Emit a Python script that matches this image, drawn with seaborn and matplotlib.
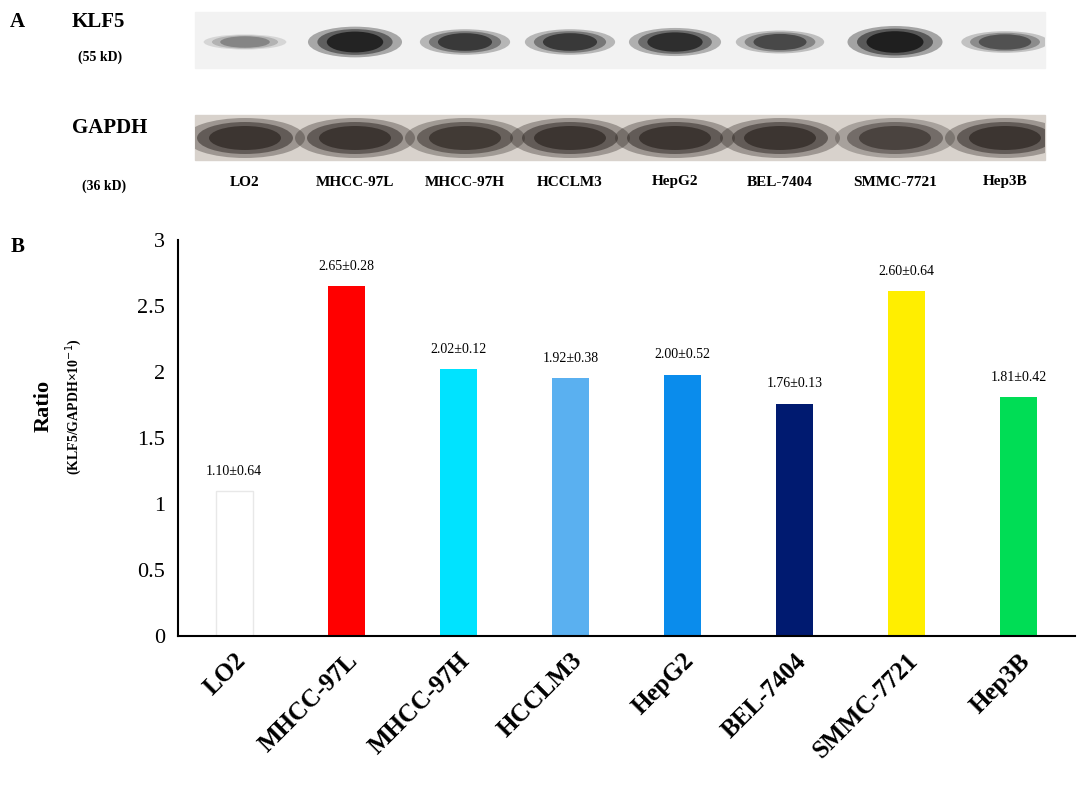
import matplotlib
matplotlib.use("Agg")
import matplotlib.pyplot as plt
import seaborn as sns
import pandas as pd
import numpy as np
from matplotlib.patches import Ellipse, Rectangle

sns.set_theme(style="white")
plt.rcParams['font.family'] = ['Liberation Serif', 'DejaVu Serif']
plt.rcParams['text.color'] = 'black'
plt.rcParams['xtick.color'] = 'black'
plt.rcParams['ytick.color'] = 'black'

cells = ["LO2", "MHCC-97L", "MHCC-97H", "HCCLM3", "HepG2", "BEL-7404", "SMMC-7721", "Hep3B"]
ratios = [1.10, 2.65, 2.02, 1.95, 1.98, 1.76, 2.61, 1.81]
labels = ["1.10±0.64", "2.65±0.28", "2.02±0.12", "1.92±0.38", "2.00±0.52", "1.76±0.13", "2.60±0.64", "1.81±0.42"]
colors = ["#ffffff", "#ff0000", "#00e3ff", "#5ab0f0", "#0a8cec", "#001a70", "#ffee00", "#00dd55"]
klf5_int = [0.35, 0.95, 0.75, 0.75, 0.85, 0.65, 1.0, 0.6]
gapdh_int = [0.85, 0.85, 0.8, 0.85, 0.85, 0.85, 0.7, 0.85]

fig = plt.figure(figsize=(10.8, 7.89), dpi=100)

# Panel A: blot
axb = fig.add_axes([0.0, 1 - 200 / 789, 1.0, 200 / 789])
axb.set_xlim(0, 1080); axb.set_ylim(200, 0); axb.axis("off")
lane_x = [245, 355, 465, 570, 675, 780, 895, 1005]
r1 = Rectangle((195, 12), 850, 56, color="#f2f2f2", zorder=0)
r2 = Rectangle((195, 115), 850, 45, color="#d8d2cc", zorder=0)
axb.add_patch(r1); axb.add_patch(r2)
for x, k, g in zip(lane_x, klf5_int, gapdh_int):
    for s, a in [(1.0, 0.35), (0.8, 0.5), (0.6, 0.8)]:
        e = Ellipse((x, 42), 95 * s * (0.8 + 0.2 * k), 26 * s * k + 6, color="#111111", alpha=a * k, lw=0)
        axb.add_patch(e); e.set_clip_path(r1)
    for s, a in [(1.0, 0.4), (0.8, 0.6), (0.6, 0.8)]:
        e = Ellipse((x, 138), 120 * s, 40 * s, color="#2b2420", alpha=a * g, lw=0)
        axb.add_patch(e); e.set_clip_path(r2)
axb.text(10, 22, "A", fontsize=15, fontweight="bold", va="center")
axb.text(72, 22, "KLF5", fontsize=15, fontweight="bold", va="center")
axb.text(78, 57, "(55 kD)", fontsize=10, fontweight="bold", va="center")
axb.text(72, 128, "GAPDH", fontsize=15, fontweight="bold", va="center")
axb.text(82, 186, "(36 kD)", fontsize=10, fontweight="bold", va="center")
for x, c in zip(lane_x, cells):
    axb.text(x, 182, c, fontsize=11, fontweight="bold", ha="center", va="center")

# Panel B
ax = fig.add_axes([0.165, 0.194, 0.83, 0.502])
df = pd.DataFrame({"cell": cells, "ratio": ratios})
sns.barplot(data=df, x="cell", y="ratio", hue="cell", palette=colors, legend=False,
            width=0.33, ax=ax, edgecolor="none", saturation=1)
ax.patches[0].set_edgecolor("#e8e8e8"); ax.patches[0].set_linewidth(1)
for i, (v, l) in enumerate(zip(ratios, labels)):
    ax.text(i, v + 0.1, l, ha="center", va="bottom", fontsize=10)
ax.set_ylim(0, 3)
ax.set_yticks([0, 0.5, 1, 1.5, 2, 2.5, 3])
ax.set_yticklabels(["0", "0.5", "1", "1.5", "2", "2.5", "3"], fontsize=16)
ax.set_xticks(range(8))
ax.set_xticklabels(cells, rotation=45, ha="right", rotation_mode="anchor", fontsize=18, fontweight="bold")
ax.set_xlabel(""); ax.set_ylabel("")
for s in ["top", "right"]:
    ax.spines[s].set_visible(False)
ax.spines["left"].set_color("black"); ax.spines["bottom"].set_color("black")
ax.spines["left"].set_linewidth(1.5); ax.spines["bottom"].set_linewidth(1.5)
fig.text(0.04, 0.485, "Ratio", rotation=90, fontsize=16, fontweight="bold", ha="center", va="center")
fig.text(0.068, 0.485, "(KLF5/GAPDH×10$^{-1}$)", rotation=90, fontsize=10, fontweight="bold", ha="center", va="center")
fig.text(0.01, 0.68, "B", fontsize=15, fontweight="bold")
fig.savefig("out.png", dpi=100)
